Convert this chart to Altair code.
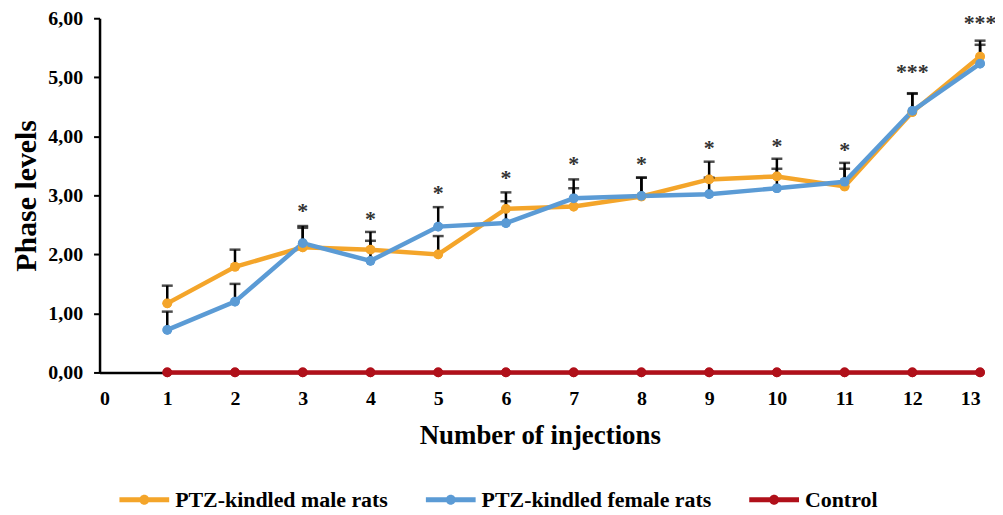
import altair as alt
import pandas as pd

injections = list(range(1, 14))
series_names = ["PTZ-kindled male rats", "PTZ-kindled female rats", "Control"]

male_mean = [1.17, 1.79, 2.12, 2.08, 2.00, 2.77, 2.81, 2.98, 3.27, 3.32, 3.15, 4.41, 5.35]
male_top = [1.47, 2.08, 2.48, 2.38, 2.31, 3.05, 3.12, 3.30, 3.57, 3.62, 3.45, 4.72, 5.62]
female_mean = [0.72, 1.20, 2.19, 1.89, 2.47, 2.53, 2.95, 2.99, 3.02, 3.12, 3.23, 4.43, 5.23]
female_top = [1.03, 1.50, 2.45, 2.23, 2.80, 2.90, 3.27, 3.30, 3.30, 3.45, 3.55, 4.73, 5.55]
control_mean = [0.0] * 13

star_x = [3, 4, 5, 6, 7, 8, 9, 10, 11, 12, 13]
star_y = [2.82, 2.68, 3.12, 3.37, 3.62, 3.62, 3.89, 3.92, 3.85, 5.18, 6.00]
star_text = ["*", "*", "*", "*", "*", "*", "*", "*", "*", "***", "***"]

rows = []
for i, x in enumerate(injections):
    rows.append({"x": x, "y": male_mean[i], "top": male_top[i], "series": series_names[0]})
    rows.append({"x": x, "y": female_mean[i], "top": female_top[i], "series": series_names[1]})
    rows.append({"x": x, "y": control_mean[i], "top": None, "series": series_names[2]})
df = pd.DataFrame(rows)
err_df = df[df["series"] != "Control"]
stars = pd.DataFrame({"x": star_x, "y": star_y, "t": star_text})

FONT = "Liberation Serif"
color_range = ["#F4A52A", "#5B9BD5", "#B0101A"]

xscale = alt.Scale(domain=[0, 13], nice=False)
yscale = alt.Scale(domain=[0, 6], nice=False)

xaxis = alt.Axis(values=list(range(0, 14)), format="d", title="Number of injections", ticks=False,
                 labelPadding=16, titlePadding=14, grid=False, titleFontSize=27)
yaxis = alt.Axis(values=[0, 1, 2, 3, 4, 5, 6], title="Phase levels",
                 labelExpr="replace(format(datum.value, '.2f'), '.', ',')",
                 tickSize=6, tickWidth=2, tickColor="black", labelPadding=11,
                 titlePadding=6, grid=False, titleFontSize=30)

X = alt.X("x:Q", scale=xscale, axis=xaxis)
Y = alt.Y("y:Q", scale=yscale, axis=yaxis)

legend_path = ("M-1,-0.1H1V0.1H-1Z"
               "M-0.2,0A0.2,0.2,0,1,1,0.2,0A0.2,0.2,0,1,1,-0.2,0Z")

COLOR = alt.Color("series:N", scale=alt.Scale(domain=series_names, range=color_range),
                  legend=alt.Legend(title=None, orient="none", direction="horizontal",
                                    legendX=20, legendY=459,
                                    symbolType=legend_path, symbolSize=2500,
                                    symbolStrokeWidth=0, symbolOpacity=1, columnPadding=38,
                                    labelFont=FONT, labelFontSize=22, labelFontWeight="bold",
                                    labelColor="black", labelOffset=6, labelLimit=400))

points_base = alt.Chart(df).mark_circle(size=95, opacity=1).encode(x=X, y=Y, color=COLOR)
lines = alt.Chart(df).mark_line(strokeWidth=4.5).encode(x=X, y=Y, color=COLOR)
points_top = alt.Chart(df).mark_circle(size=95, opacity=1).encode(x=X, y=Y, color=COLOR)

err_rules = alt.Chart(err_df).mark_rule(color="black", strokeWidth=2.5).encode(
    x="x:Q", y="y:Q", y2="top:Q"
)
err_caps = alt.Chart(err_df).mark_tick(color="black", orient="horizontal", size=11, thickness=2.5).encode(
    x="x:Q", y="top:Q"
)

star_marks = alt.Chart(stars).mark_text(font=FONT, fontSize=22, fontWeight="bold", color="#333333",
                                        baseline="middle", dy=5).encode(
    x="x:Q", y="y:Q", text="t:N"
)

chart = alt.layer(points_base, lines, err_rules, err_caps, points_top, star_marks).properties(
    width=885, height=356,
    autosize=alt.AutoSizeParams(type="none"),
    padding={"left": 92, "top": 9, "right": 15, "bottom": 142},
).configure(font=FONT).configure_view(stroke=None).configure_axis(
    labelFont=FONT, labelFontSize=20, labelFontWeight="bold", labelColor="black",
    titleFont=FONT, titleFontWeight="bold", titleColor="black",
    domainColor="black", domainWidth=2.5,
).configure_legend(
    labelFont=FONT, labelFontSize=22, labelFontWeight="bold", labelColor="black",
)

chart.save("out.html", embed_options={"renderer": "svg", "actions": False})
